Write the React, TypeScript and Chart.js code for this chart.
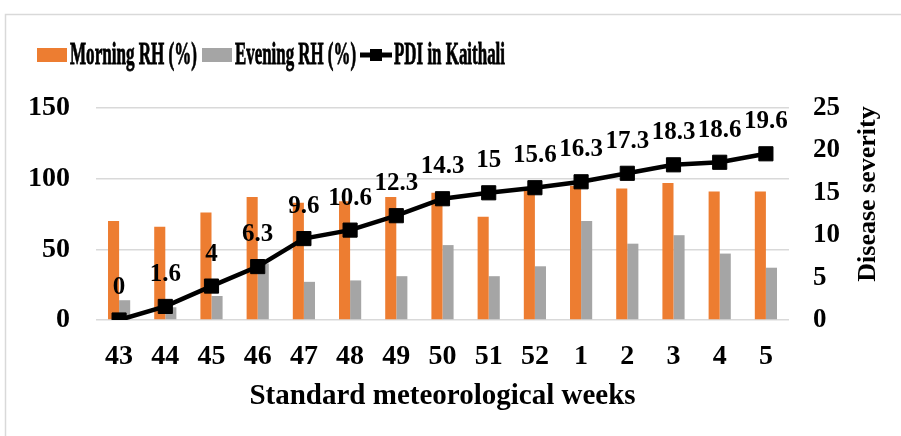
import React, { useEffect, useRef } from "react";
import { Chart, registerables } from "chart.js";

Chart.register(...registerables);

const weeks = ["43", "44", "45", "46", "47", "48", "49", "50", "51", "52", "1", "2", "3", "4", "5"];
const morningRH = [70, 66, 76, 87, 83, 84, 87, 90, 73, 94, 95, 93, 97, 91, 91];
const eveningRH = [14, 9, 17, 40, 27, 28, 31, 53, 31, 38, 70, 54, 60, 47, 37];
const pdiKaithali = [0, 1.6, 4, 6.3, 9.6, 10.6, 12.3, 14.3, 15, 15.6, 16.3, 17.3, 18.3, 18.6, 19.6];

const legendLabels = ["Morning RH (%)", "Evening RH (%)", "PDI in Kaithali"];
const xTitle = "Standard meteorological weeks";
const y1Title = "Disease severity";

const ORANGE = "#ED7D31";
const GREY = "#A5A5A5";
const FONT = "'Liberation Serif', 'Times New Roman', serif";

const decorPlugin = {
  id: "decor",
  beforeDraw(chart: any) {
    const ctx = chart.ctx;
    ctx.save();
    ctx.fillStyle = "#ffffff";
    ctx.fillRect(0, 0, chart.width, chart.height);
    ctx.strokeStyle = "#d9d9d9";
    ctx.lineWidth = 1.5;
    ctx.strokeRect(5.5, 14.5, 2000, 2000);
    ctx.restore();
  },
  afterDatasetsDraw(chart: any) {
    const ctx = chart.ctx;
    ctx.save();
    const meta = chart.getDatasetMeta(2);
    ctx.font = `bold 25px ${FONT}`;
    ctx.fillStyle = "#000";
    ctx.textAlign = "center";
    ctx.textBaseline = "middle";
    meta.data.forEach((pt: any, i: number) => {
      ctx.fillText(String(pdiKaithali[i]), pt.x, pt.y - 32);
    });
    ctx.restore();
  },
  afterDraw(chart: any) {
    const ctx = chart.ctx;
    ctx.save();
    ctx.font = `bold 31px ${FONT}`;
    ctx.textBaseline = "alphabetic";
    ctx.textAlign = "left";
    ctx.strokeStyle = "#000";
    ctx.lineWidth = 0.8;
    const baseY = 64;
    const txt = (s: string, x: number, w: number) => {
      ctx.fillStyle = "#000";
      ctx.fillText(s, x, baseY, w);
      ctx.strokeText(s, x, baseY, w);
    };
    ctx.fillStyle = ORANGE;
    ctx.fillRect(37, 48, 30, 14);
    txt(legendLabels[0], 70, 127);
    ctx.fillStyle = GREY;
    ctx.fillRect(202, 48, 30, 14);
    txt(legendLabels[1], 235, 121);
    ctx.strokeStyle = "#000";
    ctx.lineWidth = 5;
    ctx.beginPath();
    ctx.moveTo(360, 55);
    ctx.lineTo(392, 55);
    ctx.stroke();
    ctx.fillStyle = "#000";
    ctx.fillRect(370, 49, 12, 12);
    ctx.lineWidth = 0.8;
    txt(legendLabels[2], 394, 111);
    // right axis title
    ctx.translate(868, 194);
    ctx.rotate(-Math.PI / 2);
    ctx.font = `bold 26px ${FONT}`;
    ctx.textAlign = "center";
    ctx.textBaseline = "middle";
    ctx.fillStyle = "#000";
    ctx.fillText(y1Title, 0, 0);
    ctx.restore();
  },
};

export default function App() {
  const ref = useRef<HTMLCanvasElement | null>(null);
  useEffect(() => {
    if (!ref.current) return;
    const chart = new Chart(ref.current, {
      type: "bar",
      data: {
        labels: weeks,
        datasets: [
          {
            type: "bar",
            label: legendLabels[0],
            data: morningRH,
            backgroundColor: ORANGE,
            yAxisID: "y",
            order: 2,
            categoryPercentage: 0.48,
            barPercentage: 1,
          },
          {
            type: "bar",
            label: legendLabels[1],
            data: eveningRH,
            backgroundColor: GREY,
            yAxisID: "y",
            order: 2,
            categoryPercentage: 0.48,
            barPercentage: 1,
          },
          {
            type: "line",
            label: legendLabels[2],
            data: pdiKaithali,
            borderColor: "#000",
            backgroundColor: "#000",
            borderWidth: 4.5,
            pointStyle: "rect",
            pointRadius: 10,
            pointBorderWidth: 1,
            pointBackgroundColor: "#000",
            pointBorderColor: "#000",
            yAxisID: "y1",
            order: 0,
            tension: 0,
          } as any,
        ],
      },
      options: {
        animation: false,
        responsive: false,
        maintainAspectRatio: false,
        layout: { padding: { top: 108, left: 0, right: 0, bottom: 0 } },
        plugins: {
          legend: { display: false },
          tooltip: { enabled: false },
        },
        scales: {
          x: {
            grid: { display: false, drawTicks: false },
            border: { display: false },
            ticks: {
              color: "#000",
              font: { family: FONT, size: 28, weight: "bold" },
              padding: 20,
              maxRotation: 0,
              autoSkip: false,
            },
            title: {
              display: true,
              text: xTitle,
              color: "#000",
              font: { family: FONT, size: 29, weight: "bold" },
              padding: { top: 0, bottom: 22 },
            },
            afterFit: (s: any) => {
              s.height = 116;
            },
          },
          y: {
            position: "left",
            min: 0,
            max: 150,
            grid: { color: "#d9d9d9", lineWidth: 1.5, drawTicks: false },
            border: { display: false },
            ticks: {
              stepSize: 50,
              color: "#000",
              font: { family: FONT, size: 28, weight: "bold" },
              padding: 26,
            },
            afterFit: (s: any) => {
              s.width = 96;
            },
          },
          y1: {
            position: "right",
            min: 0,
            max: 25,
            grid: { display: false, drawTicks: false },
            border: { display: false },
            ticks: {
              stepSize: 5,
              color: "#000",
              font: { family: FONT, size: 27, weight: "bold" },
              padding: 24,
            },
            afterFit: (s: any) => {
              s.width = 112;
            },
          },
        },
      } as any,
      plugins: [decorPlugin],
    });
    return () => chart.destroy();
  }, []);
  return (
    <div style={{ position: "absolute", left: 0, top: 0, width: 901, height: 436 }}>
      <canvas ref={ref} width={901} height={436} style={{ width: 901, height: 436, display: "block" }} />
    </div>
  );
}
